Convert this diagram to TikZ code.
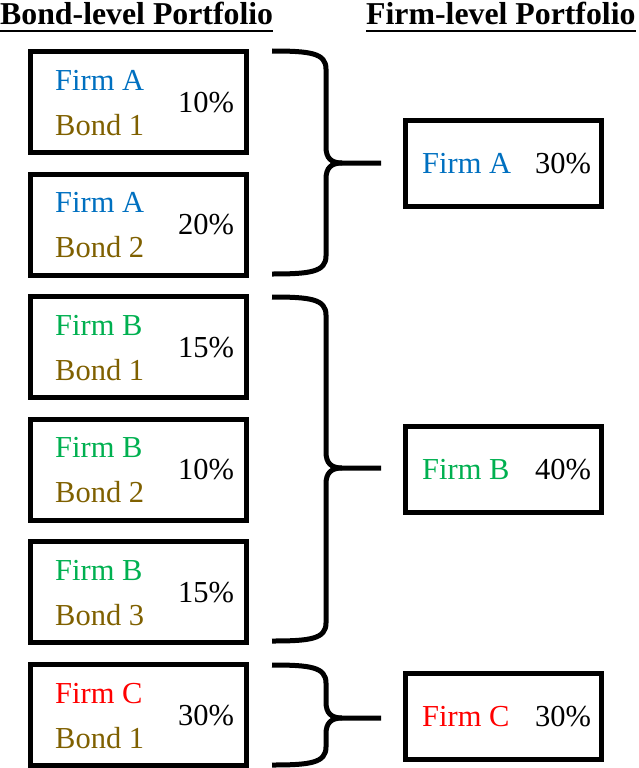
\documentclass[tikz,border=0pt]{standalone}
\usepackage{fontspec}
\setmainfont{Liberation Serif}
\usetikzlibrary{calc}
\definecolor{firmA}{HTML}{0070C0}
\definecolor{firmB}{HTML}{00B050}
\definecolor{firmC}{HTML}{FF0000}
\definecolor{bondc}{HTML}{7F6000}
\tikzset{
  lbox/.style={draw=black, line width=5pt, minimum width=216pt, minimum height=101pt, inner sep=0pt, outer sep=0pt, anchor=north west},
  rbox/.style={draw=black, line width=5pt, minimum width=196pt, minimum height=86pt, inner sep=0pt, outer sep=0pt, anchor=west},
  txt/.style={inner sep=0pt, anchor=base west, font=\fontsize{30.5}{36}\selectfont},
  head/.style={inner sep=0pt, anchor=base west, font=\fontsize{31.8}{38}\selectfont\bfseries},
  bracestyle/.style={line width=5pt, line cap=butt, line join=round},
}
\newcommand\bondbox[6]{%
  \node[lbox] (#1) at (30.5,#2) {};
  \node[txt, text=#3] (#1f) at ($(#1.north west)+(24.5,38.5)$) {#4};
  \node[txt, text=bondc] (#1b) at ($(#1.north west)+(24.5,83.5)$) {#5};
  \node[txt] (#1p) at ($(#1.north west)+(147.5,60.5)$) {#6};
}
\newcommand\firmbrace[3]{%
  \draw[bracestyle] (272,#1) .. controls (310,#1) and (326,#1+2) .. (326,#1+18)
    -- (326,#3-16) .. controls (326,#3-5) and (331,#3) .. (342,#3) -- (381,#3);
  \draw[bracestyle] (342,#3) .. controls (331,#3) and (326,#3+5) .. (326,#3+16)
    -- (326,#2-18) .. controls (326,#2-2) and (310,#2) .. (272,#2);
}
\begin{document}
\begin{tikzpicture}[x=1pt, y=-1pt]
\useasboundingbox (0,0) rectangle (638,768);
% headers
\node[head] (h1) at (0,25) {Bond-level Portfolio};
\draw[line width=2.8pt] (h1.base west |- 0,31) -- (h1.base east |- 0,31);
\node[head] (h2) at (366,25) {Firm-level Portfolio};
\draw[line width=2.8pt] (h2.base west |- 0,31) -- (h2.base east |- 0,31);
% bond boxes
\bondbox{b1}{51.5}{firmA}{Firm A}{Bond 1}{10\%}
\bondbox{b2}{174.1}{firmA}{Firm A}{Bond 2}{20\%}
\bondbox{b3}{296.7}{firmB}{Firm B}{Bond 1}{15\%}
\bondbox{b4}{419.3}{firmB}{Firm B}{Bond 2}{10\%}
\bondbox{b5}{541.9}{firmB}{Firm B}{Bond 3}{15\%}
\bondbox{b6}{664.5}{firmC}{Firm C}{Bond 1}{30\%}
% firm boxes
\node[rbox] (fa) at (405,163) {};
\node[txt, text=firmA] (faf) at ($(fa.west)+(17,10)$) {Firm A};
\node[txt] (fap) at ($(fa.west)+(130,10)$) {30\%};
\node[rbox] (fb) at (405,469) {};
\node[txt, text=firmB] (fbf) at ($(fb.west)+(17,10)$) {Firm B};
\node[txt] (fbp) at ($(fb.west)+(130,10)$) {40\%};
\node[rbox] (fc) at (405,716) {};
\node[txt, text=firmC] (fcf) at ($(fc.west)+(17,10)$) {Firm C};
\node[txt] (fcp) at ($(fc.west)+(130,10)$) {30\%};
% braces
\firmbrace{51}{274}{163}
\firmbrace{297}{641}{468}
\firmbrace{665}{765}{718}
\end{tikzpicture}
\end{document}
